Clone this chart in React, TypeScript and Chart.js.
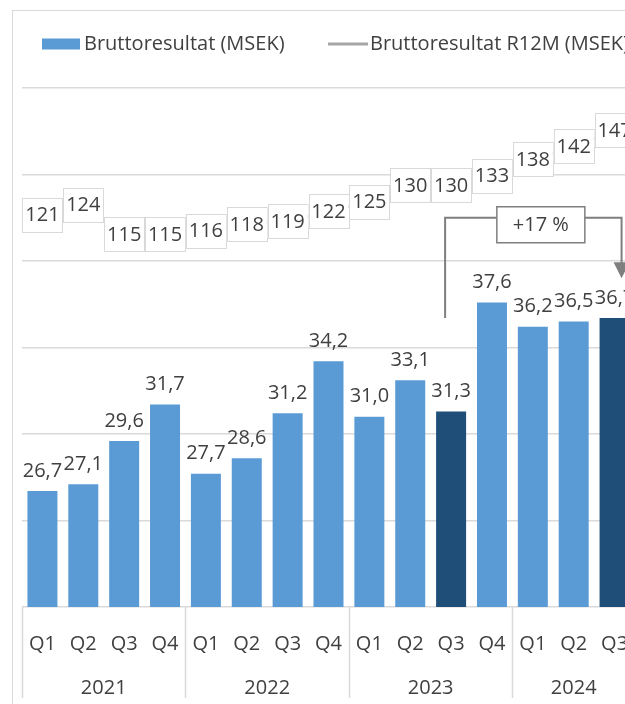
import React, { useEffect, useRef } from "react";
import { Chart, registerables } from "chart.js";

Chart.register(...registerables);

// ---------- data ----------
const quarters = ["Q1", "Q2", "Q3", "Q4", "Q1", "Q2", "Q3", "Q4", "Q1", "Q2", "Q3", "Q4", "Q1", "Q2", "Q3"];
const years = ["2021", "2022", "2023", "2024"];
const yearSpans = [4, 4, 4, 3];
const grossProfit = [26.7, 27.1, 29.6, 31.7, 27.7, 28.6, 31.2, 34.2, 31.0, 33.1, 31.3, 37.6, 36.2, 36.5, 36.7];
const grossProfitR12M = [121, 124, 115, 115, 116, 118, 119, 122, 125, 130, 130, 133, 138, 142, 147];
const highlighted = [10, 14];
const seriesNames = ["Bruttoresultat (MSEK)", "Bruttoresultat R12M (MSEK)"];
const growthLabel = "+17 %";
const growthFrom = 10;
const growthTo = 14;

// ---------- style ----------
const FONT = '"Open Sans", "Noto Sans", sans-serif';
const TEXT = "#404040";
const BLUE = "#5b9bd5";
const DARK = "#1f4e79";
const LINE = "#c4c4c4";
const GRID = "#dadada";
const FS = 20;

const fmt = (v: number) => v.toFixed(1).replace(".", ",");

const overlay = {
  id: "overlay",
  afterDatasetsDraw(chart: any) {
    const ctx: CanvasRenderingContext2D = chart.ctx;
    const x = chart.scales.x;
    const y = chart.scales.y;
    const area = chart.chartArea;
    ctx.save();
    ctx.font = `${FS}px ${FONT}`;
    ctx.textAlign = "center";
    ctx.textBaseline = "middle";

    // bar value labels
    const barMeta = chart.getDatasetMeta(0);
    barMeta.data.forEach((el: any, i: number) => {
      ctx.fillStyle = TEXT;
      ctx.fillText(fmt(grossProfit[i]), el.x, el.y - 20);
    });

    // R12M labels in boxes
    const lineMeta = chart.getDatasetMeta(1);
    lineMeta.data.forEach((el: any, i: number) => {
      const w = 40, h = 34;
      ctx.fillStyle = "#ffffff";
      ctx.fillRect(el.x - w / 2, el.y - h / 2, w, h);
      ctx.strokeStyle = "#d9d9d9";
      ctx.lineWidth = 1;
      ctx.strokeRect(Math.round(el.x - w / 2) + 0.5, Math.round(el.y - h / 2) + 0.5, w, h);
      ctx.fillStyle = TEXT;
      ctx.fillText(String(grossProfitR12M[i]), el.x, el.y + 1);
    });

    // growth bracket annotation
    const lx = x.getPixelForValue(growthFrom) - 6;
    const rx = x.getPixelForValue(growthTo) + 7;
    const topY = y.getPixelForValue(42.5);
    const leftBottom = y.getPixelForValue(36.7);
    const tipY = y.getPixelForValue(39.0);
    ctx.strokeStyle = "#7f7f7f";
    ctx.fillStyle = "#7f7f7f";
    ctx.lineWidth = 2;
    ctx.beginPath();
    ctx.moveTo(lx, leftBottom);
    ctx.lineTo(lx, topY);
    ctx.lineTo(rx, topY);
    ctx.lineTo(rx, tipY - 14);
    ctx.stroke();
    ctx.beginPath();
    ctx.moveTo(rx - 8, tipY - 16);
    ctx.lineTo(rx + 8, tipY - 16);
    ctx.lineTo(rx, tipY);
    ctx.closePath();
    ctx.fill();
    const bcx = (lx + rx) / 2 + 7.5;
    const bw = 88, bh = 36;
    const bcy = topY + 7;
    ctx.fillStyle = "#ffffff";
    ctx.fillRect(bcx - bw / 2, bcy - bh / 2, bw, bh);
    ctx.lineWidth = 1.5;
    ctx.strokeStyle = "#7f7f7f";
    ctx.strokeRect(bcx - bw / 2, bcy - bh / 2, bw, bh);
    ctx.fillStyle = TEXT;
    ctx.fillText(growthLabel, bcx, bcy + 1);

    // category labels
    ctx.fillStyle = TEXT;
    quarters.forEach((q, i) => {
      ctx.fillText(q, x.getPixelForValue(i), area.bottom + 37);
    });

    // year groups
    const half = (x.getPixelForValue(1) - x.getPixelForValue(0)) / 2;
    ctx.strokeStyle = GRID;
    ctx.lineWidth = 1.5;
    let start = 0;
    const sep = (px: number) => {
      ctx.beginPath();
      ctx.moveTo(Math.round(px) + 0.5, area.bottom);
      ctx.lineTo(Math.round(px) + 0.5, area.bottom + 91);
      ctx.stroke();
    };
    years.forEach((yr, k) => {
      const span = yearSpans[k];
      sep(x.getPixelForValue(start) - half);
      const cx = (x.getPixelForValue(start) + x.getPixelForValue(start + span - 1)) / 2;
      ctx.fillStyle = TEXT;
      ctx.fillText(yr, cx, area.bottom + 81);
      start += span;
    });
    sep(x.getPixelForValue(start - 1) + half);

    // legend
    ctx.textAlign = "left";
    const ly = 44;
    ctx.fillStyle = BLUE;
    ctx.fillRect(42, ly - 5.5, 38, 11);
    ctx.fillStyle = TEXT;
    ctx.fillText(seriesNames[0], 84, ly);
    ctx.strokeStyle = "#a6a6a6";
    ctx.lineWidth = 3;
    ctx.beginPath();
    ctx.moveTo(328, ly);
    ctx.lineTo(368, ly);
    ctx.stroke();
    ctx.fillText(seriesNames[1], 370, ly);

    ctx.restore();
  },
};

export default function App() {
  const ref = useRef<HTMLCanvasElement>(null);
  useEffect(() => {
    const chart = new Chart(ref.current as HTMLCanvasElement, {
      type: "bar",
      data: {
        labels: quarters,
        datasets: [
          {
            type: "bar",
            label: seriesNames[0],
            data: grossProfit,
            backgroundColor: grossProfit.map((_, i) => (highlighted.includes(i) ? DARK : BLUE)),
            barPercentage: 0.734,
            categoryPercentage: 1,
            yAxisID: "y",
            order: 2,
          } as any,
          {
            type: "line",
            label: seriesNames[1],
            data: grossProfitR12M,
            borderColor: LINE,
            borderWidth: 2.5,
            pointRadius: 0,
            tension: 0,
            yAxisID: "y1",
            order: 1,
          } as any,
        ],
      },
      options: {
        responsive: false,
        maintainAspectRatio: false,
        animation: false,
        layout: { padding: { left: 22, right: 65, top: 88, bottom: 97 } },
        plugins: { legend: { display: false }, tooltip: { enabled: false } },
        scales: {
          x: { display: false },
          y: {
            display: true,
            min: 20,
            max: 50,
            ticks: { display: false, stepSize: 5 },
            grid: { color: GRID, lineWidth: 1.5, drawTicks: false },
            border: { display: false },
            afterFit: (s: any) => {
              s.width = 0;
            },
          },
          y1: { display: false, min: 0, max: 160, position: "right" },
        },
      } as any,
      plugins: [overlay],
    });
    return () => chart.destroy();
  }, []);

  return (
    <div
      style={{
        position: "fixed",
        left: 0,
        top: 0,
        width: 625,
        height: 704,
        overflow: "hidden",
        background: "#ffffff",
      }}
    >
      <div
        style={{
          position: "absolute",
          left: 12,
          top: 10,
          width: 720,
          height: 780,
          border: "1px solid #d9d9d9",
          boxSizing: "border-box",
        }}
      />
      <canvas
        ref={ref}
        width={700}
        height={704}
        style={{ position: "absolute", left: 0, top: 0, width: 700, height: 704 }}
      />
    </div>
  );
}
